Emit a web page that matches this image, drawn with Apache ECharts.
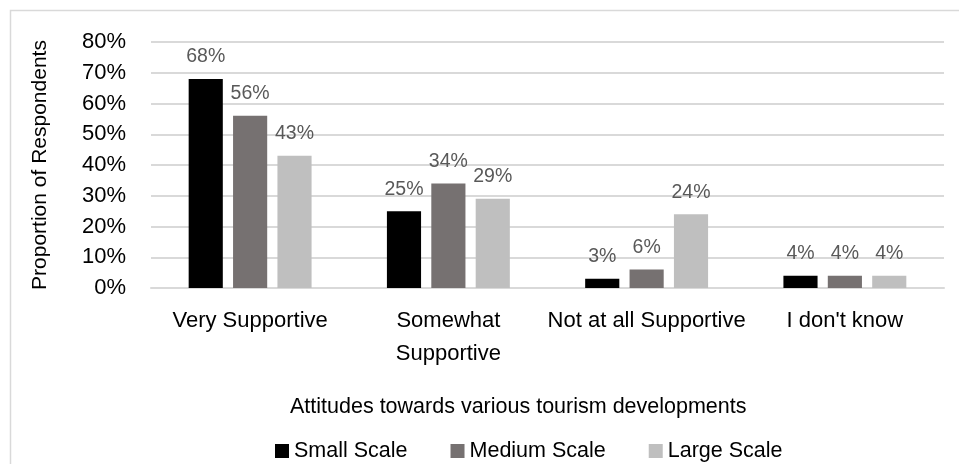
<!DOCTYPE html>
<html>
<head>
<meta charset="utf-8">
<script src="https://cdn.jsdelivr.net/npm/echarts@6/dist/echarts.min.js"></script>
<style>
  html, body { margin: 0; padding: 0; background: #fff; }
  #chart { width: 959px; height: 464px; }
</style>
</head>
<body>
<div id="chart"></div>
<script>
// data
const categories = ['Very Supportive', 'Somewhat\nSupportive', 'Not at all Supportive', "I don't know"]
const smallScale = [68, 25, 3, 4]
const mediumScale = [56, 34, 6, 4]
const largeScale = [43, 29, 24, 4]
const seriesNames = ['Small Scale', 'Medium Scale', 'Large Scale']

const font = '"Liberation Sans", Arial, sans-serif'
const colors = ['#000000', '#767171', '#bfbfbf']

const myChart = echarts.init(document.getElementById('chart'))

function barSeries (name, data) {
  return {
    name: name,
    type: 'bar',
    data: data,
    barGap: '30%',
    barCategoryGap: '38%',
    label: {
      show: true,
      position: 'top',
      distance: 12,
      formatter: '{c}%',
      color: '#595959',
      fontFamily: font,
      fontSize: 19.5
    }
  }
}

const option = {
  animation: false,
  color: colors,
  textStyle: { fontFamily: font },
  graphic: [
    {
      type: 'rect',
      shape: { x: 10.5, y: 10.5, width: 960, height: 470 },
      style: { fill: 'none', stroke: '#d9d9d9', lineWidth: 1.5 },
      silent: true
    },
    {
      type: 'text',
      left: 290,
      top: 396,
      style: {
        text: 'Attitudes towards various tourism developments',
        fill: '#000',
        font: '21.5px ' + font
      }
    }
  ],
  legend: {
    left: 270,
    top: 435,
    icon: 'rect',
    itemWidth: 14,
    itemHeight: 14,
    itemGap: 43,
    textStyle: { fontFamily: font, fontSize: 21.5, color: '#000' },
    data: seriesNames
  },
  grid: {
    left: 151,
    right: 15,
    top: 42,
    bottom: 176
  },
  xAxis: {
    type: 'category',
    data: categories,
    axisLine: { show: true, lineStyle: { color: '#d9d9d9', width: 2 } },
    axisTick: { show: false },
    axisLabel: {
      color: '#000',
      fontFamily: font,
      fontSize: 22,
      lineHeight: 33,
      margin: 16,
      interval: 0
    }
  },
  yAxis: {
    type: 'value',
    min: 0,
    max: 80,
    interval: 10,
    name: 'Proportion of Respondents',
    nameLocation: 'middle',
    nameGap: 100,
    nameTextStyle: { color: '#000', fontFamily: font, fontSize: 21 },
    axisLine: { show: false },
    axisTick: { show: false },
    splitLine: { lineStyle: { color: '#d9d9d9', width: 2 } },
    axisLabel: {
      formatter: '{value}%',
      color: '#000',
      fontFamily: font,
      fontSize: 22,
      margin: 25
    }
  },
  series: [
    barSeries(seriesNames[0], smallScale),
    barSeries(seriesNames[1], mediumScale),
    barSeries(seriesNames[2], largeScale)
  ]
}

myChart.setOption(option)
</script>
</body>
</html>
